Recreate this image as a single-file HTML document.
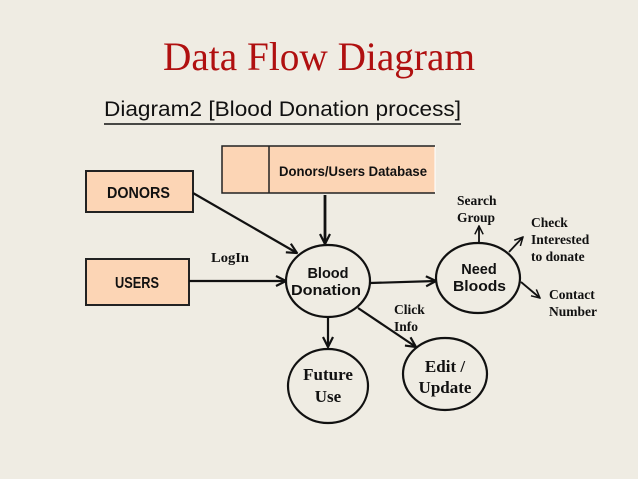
<!DOCTYPE html>
<html><head><meta charset="utf-8"><style>
html,body{margin:0;padding:0;background:#efece3;}
svg{display:block}
.s{font-family:"Liberation Serif",serif;font-weight:bold;fill:#111}
.a{font-family:"Liberation Sans",sans-serif;font-weight:bold;fill:#111}
</style></head><body>
<svg width="638" height="479" viewBox="0 0 638 479" xmlns="http://www.w3.org/2000/svg">
<defs><marker id="m" viewBox="0 0 12 12" refX="11" refY="6" markerWidth="12" markerHeight="12" orient="auto" markerUnits="userSpaceOnUse"><path d="M1,1 L11,6 L1,11" fill="none" stroke="#111" stroke-width="2.2"/></marker>
<marker id="n" viewBox="0 0 12 12" refX="11" refY="6" markerWidth="10" markerHeight="10" orient="auto" markerUnits="userSpaceOnUse"><path d="M1,1 L11,6 L1,11" fill="none" stroke="#111" stroke-width="1.8"/></marker></defs>
<rect width="638" height="479" fill="#efece3"/>
<text x="163" y="70" font-family="Liberation Serif,serif" font-size="40" fill="#b01010" textLength="312" lengthAdjust="spacingAndGlyphs">Data Flow Diagram</text>
<text x="104" y="116" font-family="Liberation Sans,sans-serif" font-size="21" fill="#111" textLength="357" lengthAdjust="spacingAndGlyphs">Diagram2 [Blood Donation process]</text>
<line x1="104" y1="124" x2="461" y2="124" stroke="#111" stroke-width="1.5"/>
<rect x="222" y="146" width="213" height="47" fill="#fcd5b5" stroke="#fff" stroke-width="1"/>
<path d="M435,146 H222 V193 H435 M269,146 V193" fill="none" stroke="#222" stroke-width="1.5"/>
<text x="279" y="176" class="a" font-size="14" textLength="148" lengthAdjust="spacingAndGlyphs">Donors/Users Database</text>
<rect x="86" y="171" width="107" height="41" fill="#fcd5b5" stroke="#222" stroke-width="2"/>
<text x="107" y="198" class="a" font-size="16" textLength="63" lengthAdjust="spacingAndGlyphs">DONORS</text>
<rect x="86" y="259" width="103" height="46" fill="#fcd5b5" stroke="#222" stroke-width="2"/>
<text x="115" y="288" class="a" font-size="16" textLength="44" lengthAdjust="spacingAndGlyphs">USERS</text>
<g stroke="#111" stroke-width="2.2" fill="none">
<line x1="193" y1="193" x2="297" y2="253" marker-end="url(#m)"/>
<line x1="189" y1="281" x2="286" y2="281" marker-end="url(#m)"/>
<line x1="325" y1="195" x2="325" y2="244" marker-end="url(#m)" stroke-width="2.8"/>
<line x1="370" y1="283" x2="436" y2="281" marker-end="url(#m)"/>
<line x1="328" y1="317" x2="328" y2="347" marker-end="url(#m)"/>
<line x1="358" y1="308" x2="416" y2="347" marker-end="url(#m)"/>
<g stroke-width="1.8">
<line x1="479" y1="243" x2="479" y2="226" marker-end="url(#n)"/>
<line x1="509" y1="252" x2="523" y2="237" marker-end="url(#n)"/>
<line x1="521" y1="282" x2="540" y2="298" marker-end="url(#n)"/>
</g>
<ellipse cx="328" cy="281" rx="42" ry="36" fill="#efece3"/>
<ellipse cx="478" cy="278" rx="42" ry="35" fill="#efece3"/>
<ellipse cx="328" cy="386" rx="40" ry="37" fill="#efece3"/>
<ellipse cx="445" cy="374" rx="42" ry="36" fill="#efece3"/>
</g>
<text x="328" y="278" class="a" font-size="14.5" text-anchor="middle">Blood</text>
<text x="291" y="295" class="a" font-size="14.5" textLength="70" lengthAdjust="spacingAndGlyphs">Donation</text>
<text x="479" y="274" class="a" font-size="14.5" text-anchor="middle">Need</text>
<text x="453" y="291" class="a" font-size="14.5" textLength="53" lengthAdjust="spacingAndGlyphs">Bloods</text>
<text x="328" y="380" class="s" font-size="17" text-anchor="middle">Future</text>
<text x="328" y="402" class="s" font-size="17" text-anchor="middle">Use</text>
<text x="445" y="372" class="s" font-size="17" text-anchor="middle">Edit /</text>
<text x="445" y="393" class="s" font-size="17" text-anchor="middle">Update</text>
<text x="211" y="262" class="s" font-size="13.5" textLength="38" lengthAdjust="spacingAndGlyphs">LogIn</text>
<text x="394" y="314" class="s" font-size="13.5">Click</text>
<text x="394" y="331" class="s" font-size="13.5">Info</text>
<text x="457" y="205" class="s" font-size="13.5">Search</text>
<text x="457" y="222" class="s" font-size="13.5">Group</text>
<text x="531" y="227" class="s" font-size="13.5">Check</text>
<text x="531" y="244" class="s" font-size="13.5">Interested</text>
<text x="531" y="261" class="s" font-size="13.5">to donate</text>
<text x="549" y="299" class="s" font-size="13.5">Contact</text>
<text x="549" y="316" class="s" font-size="13.5">Number</text>
</svg>
</body></html>
